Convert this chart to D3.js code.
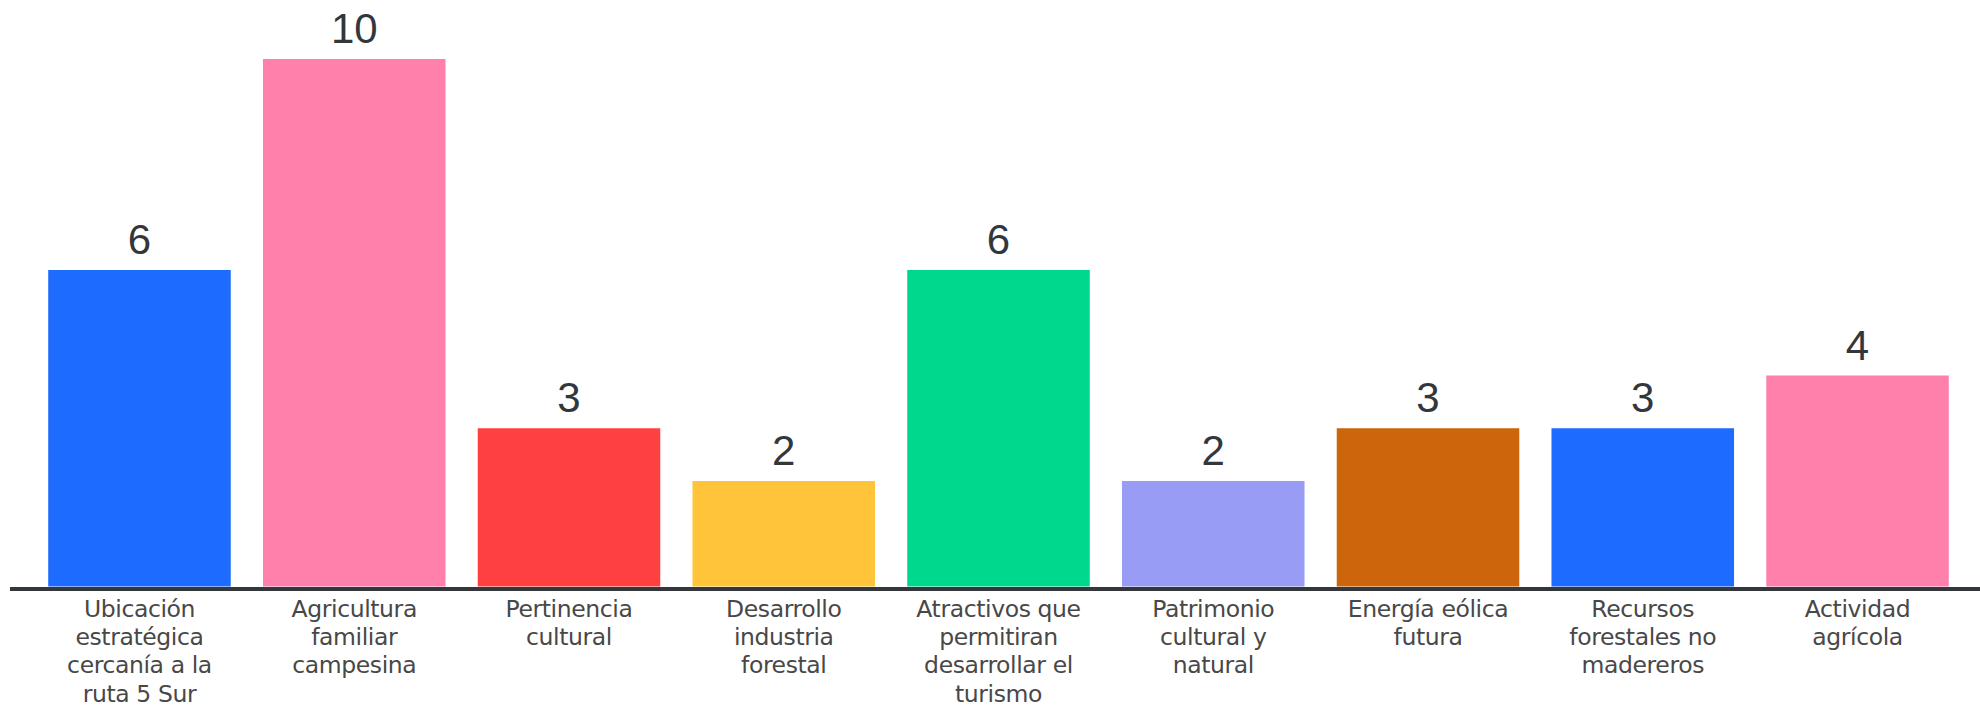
<!DOCTYPE html>
<meta charset="utf-8">
<style>
 body { margin: 0; background: #fff; }
 .value { font: 42px "Liberation Sans", Arial, sans-serif; fill: #33373c; text-anchor: middle; }
 .tick text { font: 23.5px "DejaVu Sans", sans-serif; fill: #484848; letter-spacing: -0.4px; }
</style>
<body>
<script src="https://cdn.jsdelivr.net/npm/d3@7"></script>
<script>

 // categories, label lines as shown under each bar
 var categories = [
     "Ubicación estratégica cercanía a la ruta 5 Sur",
     "Agricultura familiar campesina",
     "Pertinencia cultural",
     "Desarrollo industria forestal",
     "Atractivos que permitiran desarrollar el turismo",
     "Patrimonio cultural y natural",
     "Energía eólica futura",
     "Recursos forestales no madereros",
     "Actividad agrícola"
 ];
 var labelLines = [
     ["Ubicación", "estratégica", "cercanía a la", "ruta 5 Sur"],
     ["Agricultura", "familiar", "campesina"],
     ["Pertinencia", "cultural"],
     ["Desarrollo", "industria", "forestal"],
     ["Atractivos que", "permitiran", "desarrollar el", "turismo"],
     ["Patrimonio", "cultural y", "natural"],
     ["Energía eólica", "futura"],
     ["Recursos", "forestales no", "madereros"],
     ["Actividad", "agrícola"]
 ];
 var values = [6, 10, 3, 2, 6, 2, 3, 3, 4];
 var colors = ["#1d6bff", "#ff80ab", "#ff4040", "#ffc43a", "#00d88e", "#999cf5", "#cc650b", "#1d6bff", "#ff80ab"];

 var width = 1980,
     height = 707,
     baseline = 586.5;

 var data = categories.map(function(c, i) {
     return {name: c, value: values[i], color: colors[i], lines: labelLines[i]};
 });

 var xScale = d3.scaleBand()
                .domain(categories)
                .range([16, 1981])
                .paddingInner(0.15)
                .paddingOuter(0.15);

 var yScale = d3.scaleLinear()
                .domain([0, 10])
                .range([baseline, 59]);

 var svg = d3.select("body").append("svg")
             .attr("width", width)
             .attr("height", height);

 // bars
 svg.append("g").selectAll("rect")
    .data(data)
    .enter().append("rect")
    .attr("x", function(d) { return xScale(d.name); })
    .attr("y", function(d) { return yScale(d.value); })
    .attr("width", xScale.bandwidth())
    .attr("height", function(d) { return yScale(0) - yScale(d.value); })
    .attr("fill", function(d) { return d.color; });

 // value labels
 svg.append("g").selectAll("text")
    .data(data)
    .enter().append("text")
    .attr("class", "value")
    .attr("x", function(d) { return xScale(d.name) + xScale.bandwidth() / 2; })
    .attr("y", function(d) { return yScale(d.value) - 16; })
    .text(function(d) { return d.value; });

 // x axis, with multi-line tick labels
 var xAxis = d3.axisBottom(xScale).tickSize(0).tickFormat("");

 var gX = svg.append("g")
             .attr("transform", "translate(0," + baseline + ")")
             .call(xAxis);

 gX.select(".domain").remove();

 gX.selectAll(".tick text")
   .attr("y", 0)
   .attr("dy", null)
   .each(function(d, i) {
       var t = d3.select(this);
       labelLines[i].forEach(function(line, j) {
           t.append("tspan")
            .attr("x", 0)
            .attr("y", 30 + j * 28.4)
            .text(line);
       });
   });

 // baseline rule
 svg.append("line")
    .attr("x1", 10)
    .attr("x2", width)
    .attr("y1", yScale(0) + 2.5)
    .attr("y2", yScale(0) + 2.5)
    .attr("stroke", "#33363b")
    .attr("stroke-width", 4);

</script>
</body>
